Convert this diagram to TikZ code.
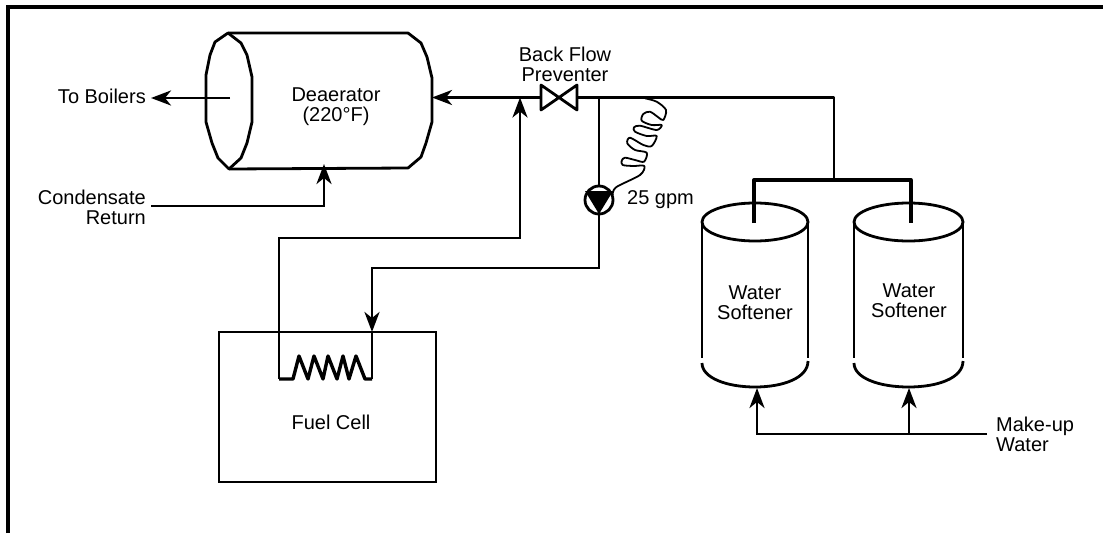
\documentclass[tikz,border=0pt]{standalone}
\usepackage{fontspec}
\setmainfont{Liberation Sans}
\usetikzlibrary{arrows.meta, positioning}
\begin{document}
\begin{tikzpicture}[
  x=1pt, y=-1pt,
  pipe/.style={line width=2.8pt, line join=round},
  arr/.style={-{Stealth[length=20pt, width=15pt, inset=6pt]}, line width=2.8pt},
  lbl/.style={font=\fontsize{20}{20}\selectfont, inner sep=0pt, align=#1},
  lbl/.default=center,
]
\useasboundingbox (0,0) rectangle (1103,533);
\draw[line width=3.6pt] (8,533) -- (8,7) -- (1103,7);

% tanks
\draw[pipe] (228,33) -- (215,42) -- (210,55) -- (206,75) -- (206,122) -- (212,143) -- (218,158) -- (229,169) -- (241,158) -- (247,143) -- (252,122) -- (252,77) -- (247,55) -- (241,43) -- cycle;
\draw[pipe] (228,33) -- (408,33) -- (421,43) -- (427,57) -- (432,78) -- (432,122) -- (426,143) -- (421,157) -- (408,168) -- (229,169);
\foreach \xa/\xb in {702/808, 854/963} {
  \draw[pipe] ({(\xa+\xb)/2},222) ellipse [x radius={(\xb-\xa)/2}, y radius=19];
  \draw[pipe] (\xa,222) -- (\xa,358);
  \draw[pipe] (\xb,222) -- (\xb,358);
  \draw[pipe] (\xa,363) .. controls (\xa,378) and ({\xa+25},387) .. ({(\xa+\xb)/2},387) .. controls ({\xb-25},387) and (\xb,378) .. (\xb,361);
}
\node[draw, line width=2.8pt, minimum width=217pt, minimum height=150pt, inner sep=0pt, outer sep=0pt] (fuel) at (327.5,407) {};

% labels
\node[lbl] (deaeratorlbl) at (336,107) {Deaerator\\(220°F)};
\node[lbl=right, anchor=east] (boilers) at (146,96) {To Boilers};
\node[lbl=right, anchor=east] (condensate) at (146,207) {Condensate\\Return};
\node[lbl] (backflow) at (565,64) {Back Flow\\Preventer};
\node[lbl, anchor=west] (gpm) at (627,200) {25 gpm};
\node[lbl] (softlbl1) at (755,303) {Water\\Softener};
\node[lbl] (softlbl2) at (909,301) {Water\\Softener};
\node[lbl] (fuellbl) at (331,422) {Fuel Cell};
\node[lbl=left, anchor=west] (makeup) at (996,434) {Make-up\\Water};

% valve and pump
\coordinate (valveL) at (541,97.5);
\coordinate (valveR) at (577,97.5);
\draw[pipe] (541,85) -- (577,110) -- (577,85) -- (541,110) -- cycle;
\node[draw, circle, line width=2.8pt, minimum size=28pt, inner sep=0pt, outer sep=0pt] (pump) at (599,200) {};
\fill[line join=round] (585,191) -- (613,191) -- (599,214) -- cycle;

% junctions
\coordinate (deaIn) at (432,97.5);
\coordinate (deaOut) at (230,98);
\coordinate (boilTip) at (151,98);
\coordinate (condStart) at (151,206);
\coordinate (deaBottom) at (324,164);
\coordinate (retTee) at (520,97.5);
\coordinate (pumpTee) at (599,97.5);
\coordinate (softTee) at (834,97.5);
\coordinate (softHead) at (834,180);
\coordinate (coilIn) at (372,379);
\coordinate (coilOut) at (279,379);
\coordinate (mkStart) at (987,434);

% pipes
\draw[arr] (deaOut) -- (boilTip);
\draw[arr] (condStart) -| (deaBottom);
\draw[arr] (valveL) -- (deaIn);
\draw[pipe] (valveR) -- (softTee) -- (softHead);
\draw[line width=3.3pt, line join=round] (754,223) |- (softHead) -| (911,223);
\draw[pipe] (pumpTee) -- (pump.north);
\draw[arr] (pump.south) |- (372,268) -- (372,332);
\draw[pipe] (372,332) -- (coilIn);
\draw[arr] (coilOut) |- (520,238) -- (retTee);
\draw[arr] (mkStart) -| (757,388);
\draw[arr] (909,434) -- (909,388);

% coil in fuel cell
\draw[line width=3.4pt, line join=round] (coilOut) -- (293,379) -- (299,356) -- (308,379) -- (314,356) -- (323,379) -- (328,356) -- (337,379) -- (343,356) -- (349,379) -- (356,356) -- (365,379) -- (coilIn);

% spring
\draw[line width=1.8pt, line join=round] plot[smooth, tension=0.5] coordinates {(612.7,195) (616,187.3) (640,175) (644.3,166) (633.3,166) (622.7,165) (621.7,160.7) (625,157.7) (635,160) (644,161.7) (646.7,152.7) (635,150) (627.3,143.3) (630,137.7) (643.3,145) (651.7,146) (656.7,136) (646.7,136) (635,131.7) (634,127.3) (640,125.7) (656.7,130) (661.7,125) (651.7,125) (641.7,120.7) (643.3,114) (650,111.7) (658.3,117.3) (663.3,120) (666,110) (656.7,101.7) (645,98.3)};
\end{tikzpicture}
\end{document}
